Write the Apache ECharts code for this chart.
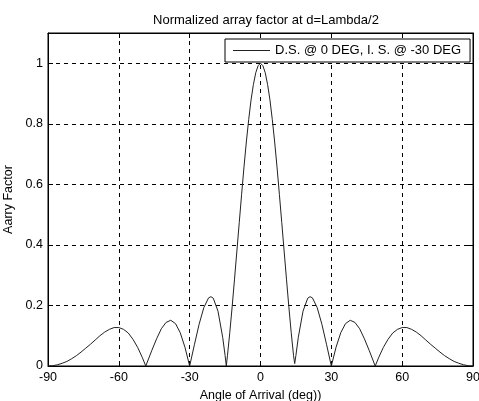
<!DOCTYPE html>
<html><head><meta charset="utf-8">
<script src="https://cdn.jsdelivr.net/npm/echarts@6/dist/echarts.min.js"></script>
<style>html,body{margin:0;padding:0;background:#fff}#c{width:479px;height:401px}</style>
</head><body><div id="c"></div>
<script>
var titleText = 'Normalized array factor at d=Lambda/2';
var seriesName = 'D.S. @ 0 DEG, I. S. @ -30 DEG';
var xTicks = [-90, -60, -30, 0, 30, 60, 90];
var yTicks = [0, 0.2, 0.4, 0.6, 0.8, 1];
var angles = [-90,-88,-86,-84,-82,-80,-78,-76,-74,-72,-70,-68,-66,-64,-62,-60,-58,-56,-54,-52,-50,-48.59,-46,-44,-42,-40,-38,-36,-34,-32,-30,-28,-26,-24,-22,-21,-20,-18,-16,-15,-14.48,-14,-13,-12,-11,-10,-9,-8,-7,-6,-5,-4,-3,-2,-1,
  0,1,2,3,4,5,6,7,8,9,10,11,12,13,14,14.48,15,16,18,20,21,22,24,26,28,30,32,34,36,38,40,42,44,46,48.59,50,52,54,56,58,60,62,64,66,68,70,72,74,76,78,80,82,84,86,88,90];
var af = [0,0.001,0.004,0.009,0.015,0.024,0.034,0.046,0.059,0.072,0.086,0.100,0.112,0.121,0.127,0.127,0.121,0.109,0.088,0.061,0.027,0,0.052,0.090,0.123,0.144,0.151,0.140,0.110,0.062,0,0.070,0.138,0.193,0.225,0.229,0.224,0.181,0.094,0.035,0,0.034,0.111,0.196,0.287,0.380,0.474,0.567,0.657,0.740,0.814,0.879,0.930,0.969,0.992,
  1,0.992,0.969,0.930,0.879,0.814,0.740,0.657,0.567,0.474,0.380,0.287,0.196,0.111,0.034,0.008,0.035,0.094,0.181,0.224,0.229,0.225,0.193,0.138,0.070,0,0.062,0.110,0.140,0.151,0.144,0.123,0.090,0.052,0,0.027,0.061,0.088,0.109,0.121,0.127,0.127,0.121,0.112,0.100,0.086,0.072,0.059,0.046,0.034,0.024,0.015,0.009,0.004,0.001,0];

var data = angles.map(function(a, i){ return [a, af[i]]; });
var font = 'Liberation Sans, Arial, sans-serif';
var chart = echarts.init(document.getElementById('c'), null, {renderer:'canvas'});
var dash = {show:true, lineStyle:{color:'#000', type:[4,4], width:1}};
chart.setOption({
  animation:false,
  backgroundColor:'#fff',
  title:{text:titleText, left:261, textAlign:'center', top:9, textStyle:{fontFamily:font, fontSize:13, fontWeight:'normal', color:'#000'}},
  legend:{left:225, top:39, padding:[5,9,5,8], itemWidth:37, itemHeight:1, itemGap:5, icon:'rect',
    backgroundColor:'#fff', borderColor:'#000', borderWidth:1, borderRadius:0,
    textStyle:{fontFamily:font, fontSize:13, color:'#000', padding:[0,0,0,0]}},
  grid:{left:48, right:6, top:33, bottom:35, show:true, borderColor:'#000', borderWidth:1, outerBoundsMode:'none', containLabel:false},
  xAxis:[{type:'value', min:-90, max:90, interval:30, position:'bottom',
    name:'Angle of Arrival (deg))', nameLocation:'middle', nameGap:22,
    nameTextStyle:{fontFamily:font, fontSize:12.5, color:'#000'},
    axisLine:{onZero:false, lineStyle:{color:'#000'}}, axisTick:{inside:true, length:5, lineStyle:{color:'#000'}},
    axisLabel:{fontFamily:font, fontSize:12.5, color:'#000', margin:5, formatter:function(v){return xTicks.indexOf(v)>=0? String(v):'';}},
    splitLine:dash},
   {type:'value', min:-90, max:90, interval:30, position:'top',
    axisLine:{onZero:false, lineStyle:{color:'#000'}}, axisTick:{inside:true, length:5, lineStyle:{color:'#000'}},
    axisLabel:{show:false}, splitLine:{show:false}}],
  yAxis:[{type:'value', min:0, max:1.1, interval:0.2, position:'left',
    name:'Aarry Factor', nameLocation:'middle', nameGap:29,
    nameTextStyle:{fontFamily:font, fontSize:12.5, color:'#000'},
    axisLine:{show:true, onZero:false, lineStyle:{color:'#000'}}, axisTick:{inside:true, length:5, lineStyle:{color:'#000'}},
    axisLabel:{fontFamily:font, fontSize:12.5, color:'#000', margin:5, showMaxLabel:false,
      formatter:function(v){ var r=Math.round(v*10)/10; return yTicks.indexOf(r)>=0 && Math.abs(v-r)<1e-9 ? String(r):''; }},
    splitLine:dash},
   {type:'value', min:0, max:1.1, interval:0.2, position:'right',
    axisLine:{show:true, onZero:false, lineStyle:{color:'#000'}}, axisTick:{inside:true, length:5, lineStyle:{color:'#000'}},
    axisLabel:{show:false}, splitLine:{show:false}}],
  series:[{name:seriesName, type:'line', data:data, symbol:'none', smooth:false,
    lineStyle:{color:'#222', width:1}, itemStyle:{color:'#222'}}]
});
</script></body></html>
